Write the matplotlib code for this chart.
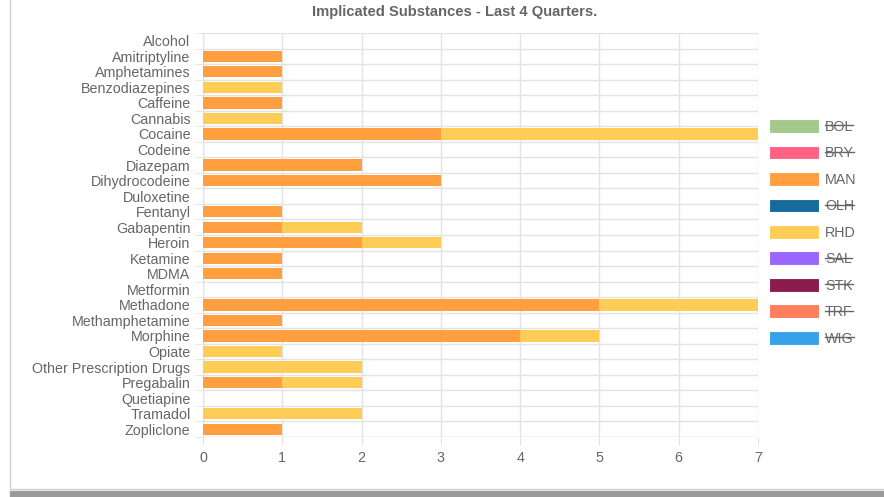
import matplotlib.pyplot as plt
import matplotlib.patches as mpatches
from matplotlib.lines import Line2D
import numpy as np

plt.rcParams['font.family'] = ['Liberation Sans', 'DejaVu Sans']

#--------------------------------------------#
# Data
#--------------------------------------------#
substances = ["Alcohol", "Amitriptyline", "Amphetamines", "Benzodiazepines",
              "Caffeine", "Cannabis", "Cocaine", "Codeine", "Diazepam",
              "Dihydrocodeine", "Duloxetine", "Fentanyl", "Gabapentin",
              "Heroin", "Ketamine", "MDMA", "Metformin", "Methadone",
              "Methamphetamine", "Morphine", "Opiate",
              "Other Prescription Drugs", "Pregabalin", "Quetiapine",
              "Tramadol", "Zopliclone"]
man = [0, 1, 1, 0, 1, 0, 3, 0, 2, 3, 0, 1, 1, 2, 1, 1, 0, 5, 1, 4, 0, 0, 1, 0, 0, 1]
rhd = [0, 0, 0, 1, 0, 1, 4, 0, 0, 0, 0, 0, 1, 1, 0, 0, 0, 2, 0, 1, 1, 2, 1, 0, 2, 0]

legend_names = ["BOL", "BRY", "MAN", "OLH", "RHD", "SAL", "STK", "TRF", "WIG"]
legend_colors = ["#a3c98c", "#ff6384", "#ff9f40", "#156b9c", "#ffcd56",
                 "#9966ff", "#8c1c4e", "#ff7f5c", "#36a2eb"]
legend_hidden = [True, True, False, True, False, True, True, True, True]

title = "Implicated Substances - Last 4 Quarters."

#--------------------------------------------#
# Figure
#--------------------------------------------#
W, H = 884, 497
fig = plt.figure(figsize=(W / 100, H / 100), dpi=100)

# card with shadow
fig.patches.append(mpatches.Rectangle((10 / W, 0), 1, 6 / H, transform=fig.transFigure,
                                      color="#9a9a9a", zorder=-2))
fig.patches.append(mpatches.Rectangle((10 / W, 8 / H), 1, 1, transform=fig.transFigure,
                                      facecolor="white", edgecolor="#d0d0d0", lw=1, zorder=-1))

ax = fig.add_axes([203 / W, 1 - 437 / H, (758 - 203) / W, (437 - 33) / H])
ax.set_facecolor("none")

grid_c = "#e3e3e3"
text_c = "#666666"
fs = 10.3

y = np.arange(len(substances))
ax.barh(y, man, height=0.72, color="#ff9f40", zorder=3)
ax.barh(y, rhd, left=man, height=0.72, color="#ffcd56", zorder=3)

ax.set_xlim(0, 7)
ax.set_ylim(len(substances) - 0.5, -0.5)
ax.set_xticks(range(8))
ax.set_yticks(y)
ax.set_yticklabels(substances)
ax.set_yticks(np.arange(len(substances) + 1) - 0.5, minor=True)

ax.tick_params(axis="y", which="major", length=0, pad=9, labelsize=fs, labelcolor=text_c)
ax.tick_params(axis="y", which="minor", length=6, color=grid_c)
ax.tick_params(axis="x", length=6, color=grid_c, pad=4, labelsize=fs, labelcolor=text_c)

ax.grid(axis="x", color=grid_c, lw=1, zorder=0)
ax.grid(axis="y", which="minor", color=grid_c, lw=1, zorder=0)
for s in ax.spines.values():
    s.set_visible(False)
ax.axvline(0, color="#d6d6d6", lw=1, zorder=1)
ax.axhline(len(substances) - 0.5, color="#d6d6d6", lw=1, zorder=1)

fig.text(455 / W, 1 - 12 / H, title, ha="center", va="center",
         fontsize=10.6, fontweight="bold", color=text_c)

#--------------------------------------------#
# Legend
#--------------------------------------------#
handles = [mpatches.Patch(facecolor=c, edgecolor="white", lw=0.8) for c in legend_colors]
leg = fig.legend(handles, legend_names, loc="upper left",
                 bbox_to_anchor=(762 / W, 1 - 112 / H), frameon=False,
                 fontsize=fs, handlelength=3.5, handleheight=1.1,
                 labelspacing=0.82, handletextpad=0.4, borderpad=0)
for t in leg.get_texts():
    t.set_color(text_c)

fig.canvas.draw()
r = fig.canvas.get_renderer()
for t, hid in zip(leg.get_texts(), legend_hidden):
    if hid:
        bb = t.get_window_extent(r)
        ym = bb.y0 + 0.6 * (bb.y1 - bb.y0)
        fig.lines.append(Line2D([bb.x0 / W, bb.x1 / W], [ym / H, ym / H],
                                transform=fig.transFigure, color=text_c, lw=1))

fig.savefig("out.png", dpi=100)
